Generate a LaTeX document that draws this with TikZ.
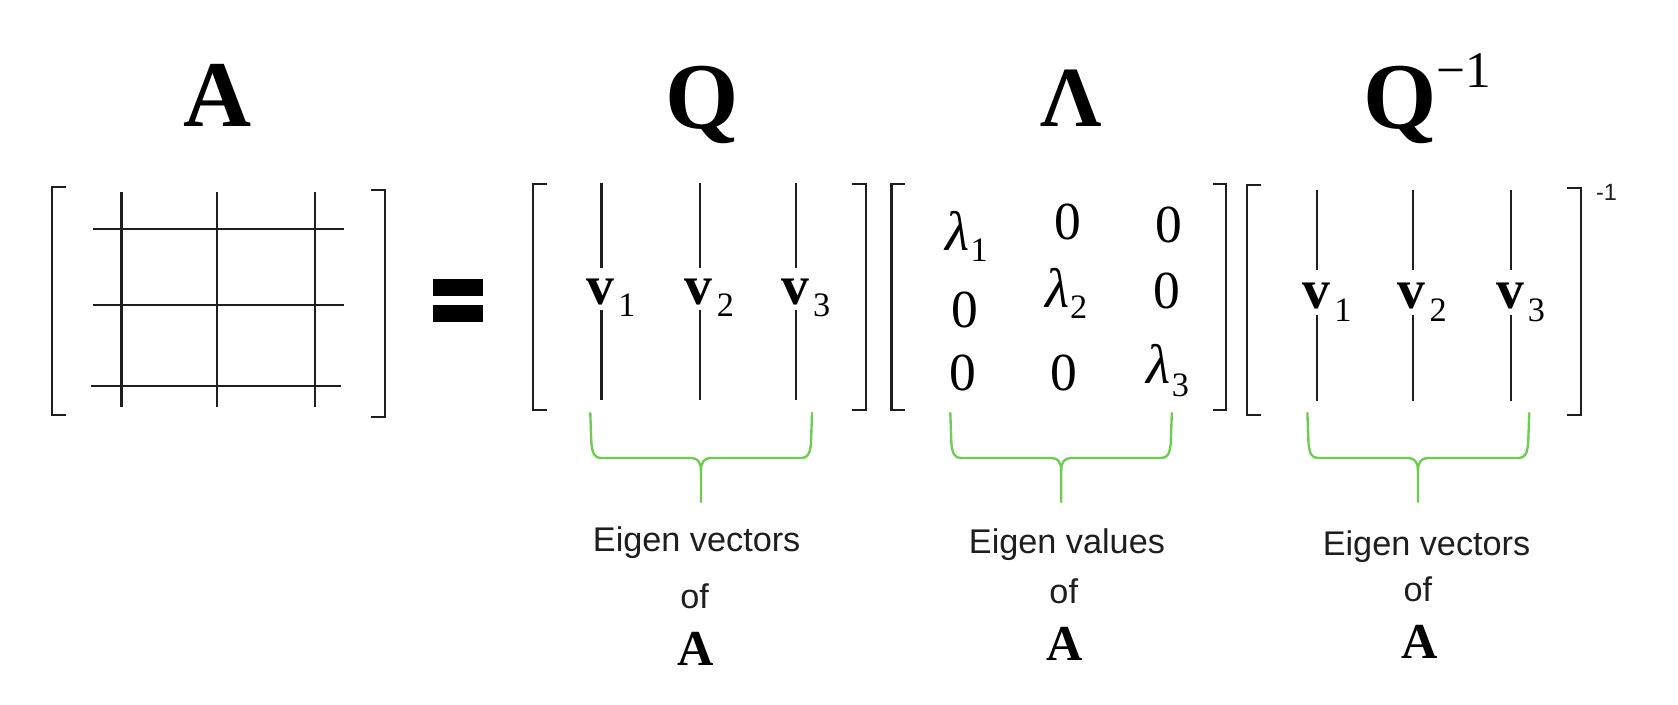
\documentclass[tikz,border=0pt]{standalone}
\usepackage{fontspec}
\setmainfont{Liberation Serif}
\newfontfamily\sansf{Liberation Sans}
\usetikzlibrary{calc}
\definecolor{ink}{RGB}{30,30,30}
\definecolor{bracegreen}{RGB}{110,205,80}
\newcommand\LBrk[3]{\draw[brk] (#1+13,#2) -- (#1,#2) -- (#1,#3) -- (#1+13,#3);}
\newcommand\RBrk[3]{\draw[brk] (#1-13,#2) -- (#1,#2) -- (#1,#3) -- (#1-13,#3);}
\newcommand\GreenBrace[3]{%
 \draw[brc] (#1,386) -- (#1+1,414) .. controls (#1+2,424) and (#1+4,428) .. (#1+10,428) -- (#2-9,428) .. controls (#2-3,428) and (#2,432) .. (#2,440) -- (#2,469);
 \draw[brc] (#2,440) .. controls (#2,432) and (#2+3,428) .. (#2+9,428) -- (#3-10,428) .. controls (#3-4,428) and (#3-2,424) .. (#3-1,414) -- (#3,386);}
\begin{document}
\begin{tikzpicture}[x=0.5pt,y=-0.5pt,
  brk/.style={draw=ink,line width=1pt},
  gridline/.style={draw=ink,line width=1pt},
  colline/.style={draw=ink,line width=1pt},
  brc/.style={draw=bracegreen,line width=1.1pt,line cap=round,line join=round},
  ttl/.style={inner sep=0pt,anchor=base,font=\fontsize{44}{44}\selectfont\bfseries},
  vlab/.style={inner sep=0pt,anchor=base,font=\fontsize{26}{26}\selectfont\bfseries},
  sublab/.style={inner sep=0pt,anchor=base west,font=\fontsize{16}{16}\selectfont},
  ent/.style={inner sep=0pt,anchor=base,font=\fontsize{25}{25}\selectfont},
  lam/.style={inner sep=0pt,anchor=base,font=\fontsize{26}{26}\selectfont\itshape},
  captxt/.style={inner sep=0pt,anchor=base,font=\sansf\fontsize{16}{16}\selectfont,text=ink},
  capA/.style={inner sep=0pt,anchor=base,font=\fontsize{23.5}{23.5}\selectfont\bfseries},
]
\useasboundingbox (0,0) rectangle (1568,658);

% titles
\node[ttl] (tA) at (203,118) {A};
\node[ttl] (tQ) at (656,120) {Q};
\node[ttl,font=\fontsize{40}{40}\selectfont\bfseries] (tL) at (1001,118) {Λ};
\node[ttl] (tQi) at (1308,120) {Q};
\node[inner sep=0pt,anchor=base west,font=\fontsize{24}{24}\selectfont] (tQe) at (1342,82) {−1};

% matrix A
\LBrk{48.4}{175}{388}
\RBrk{360}{177.5}{389.5}
\foreach \gx in {113.5,202.6,294.4} \draw[gridline] (\gx,179) -- (\gx,380);
\foreach \gy in {213.6,285} \draw[gridline] (86.8,\gy) -- (321,\gy);
\draw[gridline] (85,361) -- (319,361);

% equals
\fill[black] (404.5,260.8) rectangle (451.2,276.9);
\fill[black] (404.5,284.6) rectangle (451.2,301);

% matrix Q
\LBrk{498}{172}{383}
\RBrk{809}{172}{383}
\foreach \cx/\i in {562/1,654/2,744/3}{
  \draw[colline] (\cx,171) -- (\cx,250);
  \draw[colline] (\cx,290) -- (\cx,374);
  \node[vlab] (qv\i) at (\cx-1,285) {v};
  \node[sublab] (qs\i) at ($(qv\i.base east)+(3,11)$) {\i};
}

% matrix Lambda
\LBrk{833}{172}{383}
\RBrk{1146}{172}{383}
\node[lam] (l1) at (895,234) {λ};
\node[sublab] (l1s) at ($(l1.base east)+(0,10)$) {1};
\node[lam] (l2) at (988,287) {λ};
\node[sublab] (l2s) at ($(l2.base east)+(0,11)$) {2};
\node[lam] (l3) at (1083,358) {λ};
\node[sublab] (l3s) at ($(l3.base east)+(0,12.5)$) {3};
\node[ent] (z12) at (998,224) {0};
\node[ent] (z13) at (1092,227) {0};
\node[ent] (z21) at (902,305.6) {0};
\node[ent] (z23) at (1090,288) {0};
\node[ent] (z31) at (900,364.5) {0};
\node[ent] (z32) at (994,364.5) {0};

% matrix Q^-1
\LBrk{1165}{173}{388}
\RBrk{1477}{176}{388}
\node[inner sep=0pt,anchor=base west,font=\sansf\fontsize{11}{11}\selectfont,text=ink] (inv) at (1491,187) {-1};
\foreach \cx/\i in {1231/1,1320/2,1412/3}{
  \draw[colline] (\cx,177.6) -- (\cx,252);
  \draw[colline] (\cx,294) -- (\cx,375);
  \node[vlab] (iv\i) at (\cx-1,288) {v};
  \node[sublab] (is\i) at ($(iv\i.base east)+(3,12)$) {\i};
}

% braces
\GreenBrace{551.6}{655}{758.8}
\GreenBrace{888}{991.6}{1095}
\GreenBrace{1221.7}{1325}{1429}

% captions
\node[captxt] (c1a) at (651,515.6) {Eigen vectors};
\node[captxt] (c1b) at (649,568.4) {of};
\node[capA] (c1c) at (650,621.5) {A};
\node[captxt] (c2a) at (997,517) {Eigen values};
\node[captxt] (c2b) at (994,563.7) {of};
\node[capA] (c2c) at (995,616.8) {A};
\node[captxt] (c3a) at (1333,518.7) {Eigen vectors};
\node[captxt] (c3b) at (1325,562) {of};
\node[capA] (c3c) at (1327,615) {A};
\end{tikzpicture}
\end{document}
